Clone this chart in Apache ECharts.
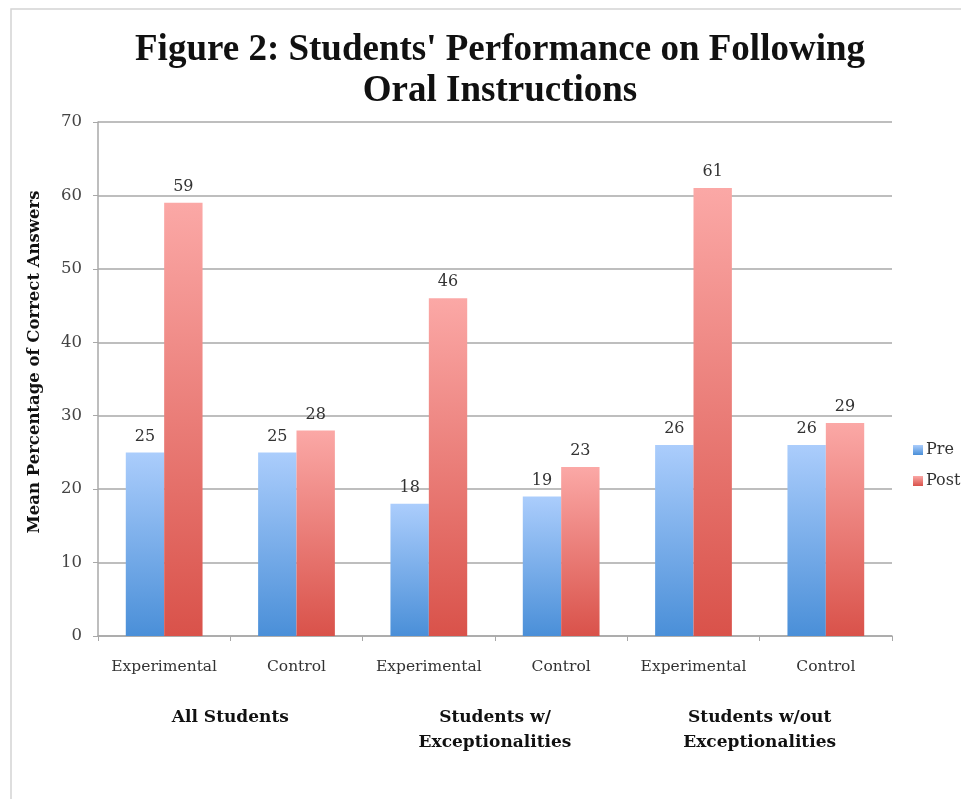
<!DOCTYPE html>
<html><head><meta charset="utf-8">
<script src="https://cdn.jsdelivr.net/npm/echarts@6/dist/echarts.min.js"></script>
<style>html,body{margin:0;padding:0;background:#fff}#c{width:961px;height:799px}</style>
</head><body><div id="c"></div>
<script>
var categories = ['Experimental', 'Control', 'Experimental', 'Control', 'Experimental', 'Control'];
var groups = ['All Students', 'Students w/\nExceptionalities', 'Students w/out\nExceptionalities'];
var preValues = [25, 25, 18, 19, 26, 26];
var postValues = [59, 28, 46, 23, 61, 29];
var seriesNames = ['Pre', 'Post'];
var titleText = "Figure 2: Students' Performance on Following\nOral Instructions";
var yAxisTitle = 'Mean Percentage of Correct Answers';

var serif = 'Liberation Serif';
var serif2 = 'DejaVu Serif';
var chart = echarts.init(document.getElementById('c'), null, {renderer: 'canvas'});
function grad(top, bottom) {
  return new echarts.graphic.LinearGradient(0, 0, 0, 1, [{offset: 0, color: top}, {offset: 1, color: bottom}]);
}
chart.setOption({
  animation: false,
  backgroundColor: '#fff',
  graphic: [
    {type: 'rect', shape: {x: 11, y: 9, width: 1000, height: 1000}, style: {fill: 'none', stroke: '#d4d4d4', lineWidth: 1.5}, silent: true},
    {type: 'text', x: 35, y: 362, rotation: Math.PI / 2, silent: true,
     style: {text: yAxisTitle, fontFamily: serif2, fontWeight: 'bold', fontSize: 16.5, fill: '#111', align: 'center', verticalAlign: 'middle'}}
  ],
  title: {
    text: titleText, left: 495, top: 25, textAlign: 'center',
    textStyle: {fontFamily: serif, fontWeight: 'bold', fontSize: 37, lineHeight: 41, color: '#111'}
  },
  legend: {
    orient: 'vertical', left: 908, top: 437, itemWidth: 10, itemHeight: 10, itemGap: 15,
    icon: 'rect',
    textStyle: {fontFamily: serif2, fontSize: 16, color: '#333', padding: [0, 0, 0, -2]},
    data: seriesNames
  },
  grid: {left: 98, right: 69, top: 122, bottom: 163, containLabel: false},
  xAxis: [{
    type: 'category', data: categories,
    axisLine: {lineStyle: {color: '#a8a8a8', width: 1.5}},
    axisTick: {show: true, length: 5, lineStyle: {color: '#a8a8a8'}},
    axisLabel: {fontFamily: serif2, fontSize: 15.5, color: '#333', margin: 23, interval: 0}
  }, {
    type: 'category', data: groups, position: 'bottom', offset: 61,
    axisLine: {show: false}, axisTick: {show: false},
    axisLabel: {fontFamily: serif2, fontSize: 17, fontWeight: 'bold', color: '#111', lineHeight: 25, interval: 0, verticalAlign: 'top'}
  }],
  yAxis: {
    type: 'value', min: 0, max: 70, interval: 10,
    axisLine: {show: true, lineStyle: {color: '#a8a8a8', width: 1.5}},
    axisTick: {show: true, length: 5, lineStyle: {color: '#a8a8a8'}},
    axisLabel: {fontFamily: serif2, fontSize: 16.5, color: '#444', margin: 16},
    splitLine: {lineStyle: {color: '#a8a8a8', width: 1.5}}
  },
  series: [{
    name: seriesNames[0], type: 'bar', data: preValues, barGap: 0, barCategoryGap: '42%',
    itemStyle: {color: grad('#abcdfc', '#4a8fd8')},
    label: {show: true, position: 'top', distance: 8, fontFamily: serif2, fontSize: 16, color: '#333'}
  }, {
    name: seriesNames[1], type: 'bar', data: postValues,
    itemStyle: {color: grad('#fba8a6', '#d9524a')},
    label: {show: true, position: 'top', distance: 8, fontFamily: serif2, fontSize: 16, color: '#333'}
  }]
});
</script></body></html>
